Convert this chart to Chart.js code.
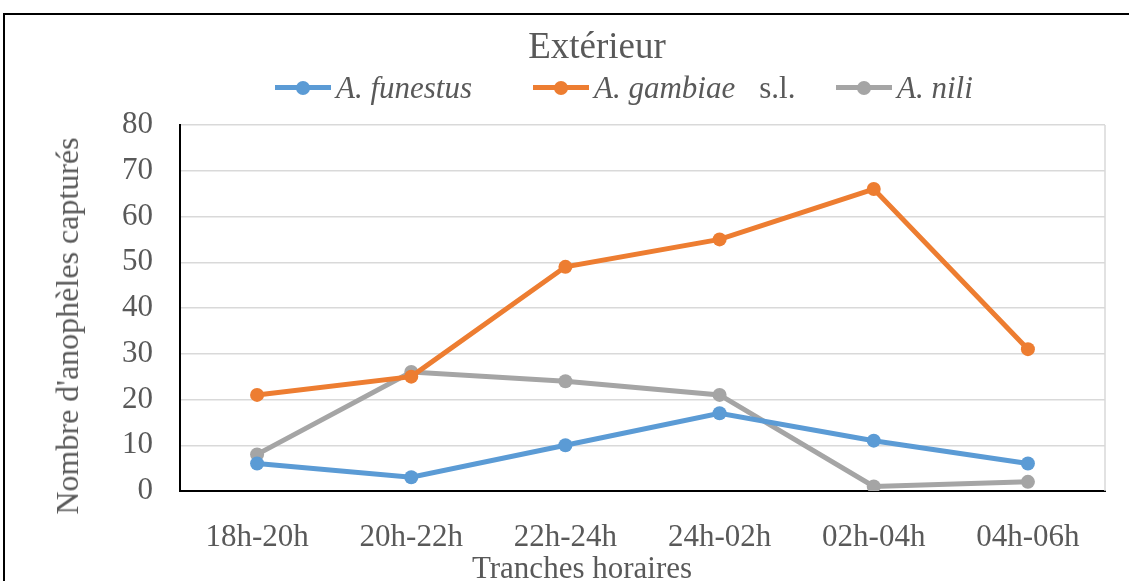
<!DOCTYPE html>
<html>
<head>
<meta charset="utf-8">
<script src="https://cdn.jsdelivr.net/npm/chart.js@4"></script>
<style>
  html, body { margin: 0; padding: 0; background: #fff; overflow: hidden; }
  #wrap { position: relative; width: 1129px; height: 581px; font-family: "Liberation Serif", "Times New Roman", serif; color: #595959; }
  #frame { position: absolute; left: 3px; top: 13px; width: 1200px; height: 700px; border-top: 2px solid #000; border-left: 2px solid #000; }
  #c { position: absolute; left: 0; top: 0; }
  .t { position: absolute; white-space: nowrap; line-height: 1; }
  #title { font-size: 37px; left: 597px; top: 27px; transform: translateX(-50%); }
  #xtitle { font-size: 31px; left: 582px; top: 552px; transform: translateX(-50%); }
  #ytitle { font-size: 32px; left: 67px; top: 326px; transform: translate(-50%, -50%) rotate(-90deg); }
  .leg { position: absolute; top: 72px; height: 31px; display: flex; align-items: center; font-size: 31px; line-height: 1; white-space: nowrap; }
  .mk { position: relative; width: 56px; height: 31px; margin-right: 5px; }
  .mk .ln { position: absolute; left: 0; right: 0; top: 13px; height: 5px; }
  .mk .pt { position: absolute; left: 21px; top: 8.5px; width: 14px; height: 14px; border-radius: 50%; }
  .it { font-style: italic; }
</style>
</head>
<body>
<div id="wrap">
  <div id="frame"></div>
  <canvas id="c" width="1129" height="581"></canvas>
  <div class="t" id="title">Extérieur</div>
  <div id="legend"></div>
  <div class="t" id="xtitle">Tranches horaires</div>
  <div class="t" id="ytitle">Nombre d'anophèles capturés</div>
</div>
<script>
// ---- Data ----
const categories = ['18h-20h', '20h-22h', '22h-24h', '24h-02h', '02h-04h', '04h-06h'];
const funestus = [6, 3, 10, 17, 11, 6];
const gambiae = [21, 25, 49, 55, 66, 31];
const nili = [8, 26, 24, 21, 1, 2];
const seriesNames = ['A. funestus', 'A. gambiae', 'A. nili'];
const seriesSuffix = ['', 's.l.', ''];
const seriesColors = ['#5B9BD5', '#ED7D31', '#A5A5A5'];
const yTicks = [0, 10, 20, 30, 40, 50, 60, 70, 80];

const seriesData = [funestus, gambiae, nili];

// ---- Legend (HTML, mixed italic / roman text) ----
const legendLefts = [275, 533, 836];
const legend = document.getElementById('legend');
seriesNames.forEach((name, i) => {
  const item = document.createElement('div');
  item.className = 'leg';
  item.style.left = legendLefts[i] + 'px';
  const mk = document.createElement('div');
  mk.className = 'mk';
  mk.innerHTML = '<div class="ln" style="background:' + seriesColors[i] + '"></div><div class="pt" style="background:' + seriesColors[i] + '"></div>';
  item.appendChild(mk);
  const it = document.createElement('span');
  it.className = 'it';
  it.textContent = name;
  item.appendChild(it);
  if (seriesSuffix[i]) {
    const s = document.createElement('span');
    s.style.marginLeft = '24px';
    s.textContent = seriesSuffix[i];
    item.appendChild(s);
  }
  legend.appendChild(item);
});

// right edge light line of plot area
const rightEdge = {
  id: 'rightEdge',
  beforeDatasetsDraw(chart) {
    const { ctx, chartArea } = chart;
    ctx.save();
    ctx.strokeStyle = '#D9D9D9';
    ctx.lineWidth = 1.5;
    ctx.beginPath();
    ctx.moveTo(chartArea.right, chartArea.top);
    ctx.lineTo(chartArea.right, chartArea.bottom);
    ctx.stroke();
    ctx.restore();
  }
};

new Chart(document.getElementById('c'), {
  type: 'line',
  data: {
    labels: categories,
    datasets: seriesData.map((d, i) => ({
      label: seriesNames[i] + (seriesSuffix[i] ? ' ' + seriesSuffix[i] : ''),
      data: d,
      borderColor: seriesColors[i],
      backgroundColor: seriesColors[i],
      borderWidth: 5,
      pointRadius: 7,
      pointHoverRadius: 7,
      pointBorderWidth: 0,
      tension: 0,
      fill: false
    }))
  },
  options: {
    responsive: false,
    animation: false,
    devicePixelRatio: 1,
    layout: { padding: { left: 0, top: 125, right: 24, bottom: 0 } },
    plugins: { legend: { display: false }, title: { display: false }, tooltip: { enabled: false } },
    scales: {
      x: {
        offset: true,
        grid: { display: false },
        border: { display: true, color: '#000000', width: 2 },
        ticks: { color: '#595959', font: { family: 'Liberation Serif', size: 31 }, padding: 20, maxRotation: 0, autoSkip: false },
        afterFit(scale) { scale.height = 90; }
      },
      y: {
        min: 0, max: 80,
        afterBuildTicks(scale) { scale.ticks = yTicks.map(v => ({ value: v })); },
        grid: { color: '#D9D9D9', lineWidth: 1.5, drawTicks: false },
        border: { display: true, color: '#000000', width: 2 },
        ticks: { color: '#595959', font: { family: 'Liberation Serif', size: 31 }, padding: 27 },
        afterFit(scale) { scale.width = 180; }
      }
    }
  },
  plugins: [rightEdge]
});
</script>
</body>
</html>
